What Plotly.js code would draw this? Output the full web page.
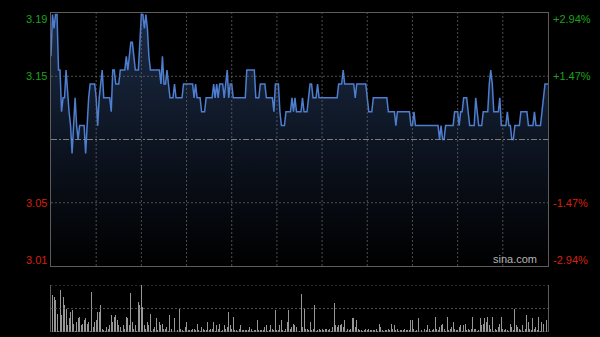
<!DOCTYPE html>
<html>
<head>
<meta charset="utf-8">
<script src="https://cdn.plot.ly/plotly-3.0.1.min.js"></script>
<style>
html,body{margin:0;padding:0;background:#000;}
#chart{width:600px;height:337px;}
</style>
</head>
<body>
<div id="chart"></div>
<script>
// ---- data (one value per trading minute, HK session 09:30-12:00, 13:00-16:00) ----
var prevClose = 3.10;
var priceLabels = ['3.19', '3.15', '3.05', '3.01'];
var pctLabels = ['+2.94%', '+1.47%', '-1.47%', '-2.94%'];
var pctSteps = [0.0294, 0.0147, -0.0147, -0.0294];
var sessionTicks = [30, 60, 90, 120, 150, 180, 210, 240, 270, 300];

var prices = [
3.16,3.19,3.18,3.19,3.19,3.15,3.15,3.12,3.13,3.13,
3.15,3.13,3.12,3.11,3.09,3.11,3.13,3.11,3.10,3.11,
3.11,3.11,3.11,3.09,3.11,3.13,3.14,3.14,3.14,3.14,
3.13,3.11,3.13,3.14,3.15,3.13,3.13,3.13,3.13,3.13,
3.12,3.15,3.15,3.14,3.14,3.14,3.15,3.15,3.15,3.15,
3.16,3.15,3.16,3.17,3.17,3.16,3.15,3.15,3.15,3.17,
3.19,3.19,3.18,3.19,3.18,3.16,3.15,3.15,3.15,3.15,
3.15,3.15,3.15,3.14,3.16,3.14,3.14,3.15,3.14,3.13,
3.13,3.13,3.14,3.13,3.13,3.13,3.13,3.13,3.14,3.14,
3.14,3.14,3.14,3.14,3.14,3.13,3.14,3.13,3.13,3.13,
3.12,3.12,3.12,3.13,3.13,3.13,3.13,3.13,3.14,3.13,
3.14,3.13,3.14,3.14,3.14,3.13,3.14,3.15,3.13,3.14,
3.14,3.13,3.13,3.13,3.13,3.13,3.13,3.13,3.13,3.13,
3.15,3.15,3.15,3.15,3.15,3.15,3.13,3.13,3.13,3.14,
3.14,3.14,3.14,3.13,3.13,3.13,3.13,3.13,3.12,3.14,
3.14,3.14,3.12,3.11,3.11,3.11,3.12,3.12,3.12,3.12,
3.13,3.12,3.13,3.12,3.12,3.12,3.12,3.13,3.12,3.12,
3.12,3.13,3.14,3.14,3.13,3.13,3.13,3.14,3.13,3.13,
3.13,3.13,3.13,3.13,3.13,3.13,3.13,3.13,3.13,3.13,
3.13,3.14,3.14,3.14,3.15,3.14,3.14,3.14,3.14,3.14,
3.14,3.14,3.13,3.14,3.14,3.14,3.14,3.14,3.14,3.14,
3.13,3.12,3.12,3.12,3.13,3.13,3.13,3.13,3.13,3.13,
3.13,3.13,3.13,3.13,3.12,3.12,3.12,3.12,3.12,3.11,
3.12,3.12,3.12,3.12,3.12,3.12,3.12,3.12,3.12,3.11,
3.11,3.12,3.11,3.11,3.11,3.11,3.11,3.11,3.11,3.11,
3.11,3.11,3.11,3.11,3.11,3.11,3.11,3.11,3.10,3.11,
3.10,3.10,3.11,3.11,3.11,3.11,3.11,3.11,3.12,3.12,
3.12,3.11,3.12,3.12,3.13,3.13,3.13,3.12,3.11,3.11,
3.11,3.11,3.13,3.12,3.11,3.11,3.11,3.12,3.12,3.12,
3.12,3.14,3.15,3.14,3.12,3.12,3.12,3.12,3.13,3.11,
3.11,3.11,3.11,3.12,3.11,3.11,3.10,3.10,3.11,3.11,
3.11,3.11,3.12,3.12,3.12,3.12,3.12,3.11,3.11,3.11,
3.11,3.12,3.11,3.11,3.11,3.11,3.12,3.13,3.14,3.14,
3.14
];

var volumes = [
89,79,75,68,39,3,89,36,75,57,
50,14,29,43,46,18,3,21,29,32,
14,18,25,29,18,21,3,86,11,21,
25,43,43,57,7,4,3,11,7,14,
36,21,32,36,25,14,11,3,14,7,
32,29,14,82,21,7,14,3,64,57,
100,54,14,7,21,14,39,3,7,11,
29,4,21,14,18,7,7,11,3,36,
7,18,29,36,4,50,7,4,3,11,
21,4,4,4,7,7,4,18,4,3,
11,7,4,4,21,4,7,7,21,3,14,
7,18,3,4,14,7,11,43,14,7,
32,4,4,3,7,14,4,4,4,4,
4,11,7,3,4,4,25,4,4,4,
4,11,14,3,4,14,7,4,46,4,
4,14,25,4,3,7,21,46,7,11,
18,14,11,7,3,80,11,50,7,7,
4,21,4,7,57,3,4,7,4,7,
4,7,7,4,7,3,11,61,14,11,
14,14,18,11,25,3,7,4,7,29,
29,11,25,7,4,4,3,4,7,4,
7,4,4,4,4,7,3,18,11,4,
3,4,4,7,4,18,7,14,4,7,
3,4,4,4,7,4,4,4,25,25,
7,3,4,29,4,4,4,7,4,14,
7,3,4,7,32,7,4,11,14,18,
7,3,32,4,7,11,21,7,4,4,
11,14,3,14,18,4,7,4,7,32,
7,7,3,4,29,14,18,29,21,32,
14,7,32,3,7,4,11,18,32,7,
4,7,4,3,18,11,4,50,14,11,
7,4,14,3,7,36,21,7,4,29,
7,11,4,32,3,21,18,18,25,7
];

// ---- build ----
var minutes = prices.map(function (_, i) { return i; });
var lastMinute = minutes[minutes.length - 1];
var levels = pctSteps.map(function (p) { return prevClose * (1 + p); });
var yHi = levels[0], yLo = levels[3];

var GREEN = '#1aa31a', RED = '#d4200c';
var FONT = 'Arial, "Liberation Sans", sans-serif';

var priceTrace = {
  type: 'scatter', mode: 'lines', x: minutes, y: prices,
  xaxis: 'x', yaxis: 'y',
  line: { color: 'rgb(78,126,208)', width: 1.5 },
  fill: 'tozeroy',
  fillgradient: {
    type: 'vertical',
    start: yLo, stop: yHi,
    colorscale: [[0, 'rgb(0,0,0)'], [1, 'rgb(27,43,70)']]
  },
  hoverinfo: 'skip'
};

var volTrace = {
  type: 'bar', x: minutes, y: volumes,
  xaxis: 'x2', yaxis: 'y2',
  width: 0.65,
  marker: { color: 'rgb(150,150,150)', line: { width: 0 } },
  hoverinfo: 'skip'
};

var shapes = [];
var gridCol = 'rgba(110,110,110,0.7)';
var gridDash = '2px,2px';
sessionTicks.forEach(function (t) {
  shapes.push({ type: 'line', xref: 'x', yref: 'y domain', x0: t, x1: t, y0: 0, y1: 1,
    line: { color: gridCol, width: 1, dash: gridDash }, layer: 'above' });
});
[levels[1], levels[2]].forEach(function (v) {
  shapes.push({ type: 'line', xref: 'x domain', yref: 'y', x0: 0, x1: 1, y0: v, y1: v,
    line: { color: gridCol, width: 1, dash: gridDash }, layer: 'above' });
});
shapes.push({ type: 'line', xref: 'x domain', yref: 'y', x0: 0, x1: 1, y0: prevClose, y1: prevClose,
  line: { color: 'rgba(150,150,150,0.8)', width: 1, dash: '6px,2px,2px,2px' }, layer: 'above' });
// volume panel top / middle / bottom rules
[100, 50].forEach(function (v) {
  shapes.push({ type: 'line', xref: 'x2 domain', yref: 'y2', x0: 0, x1: 1, y0: v, y1: v,
    line: { color: gridCol, width: 1, dash: gridDash }, layer: 'above' });
});
shapes.push({ type: 'line', xref: 'x2 domain', yref: 'y2', x0: 0, x1: 1, y0: 0, y1: 0,
  line: { color: 'rgba(110,110,110,0.8)', width: 1 }, layer: 'above' });

var annotations = [];
var anchorsY = ['top', 'middle', 'middle', 'bottom'];
var shiftsY = [2, 0, 0, -2];
levels.forEach(function (v, i) {
  var col = i < 2 ? GREEN : RED;
  annotations.push({ xref: 'paper', yref: 'y', x: 0, y: v, xanchor: 'right', yanchor: anchorsY[i],
    xshift: -2, yshift: shiftsY[i], text: priceLabels[i], showarrow: false,
    font: { family: FONT, size: 11, color: col } });
  annotations.push({ xref: 'paper', yref: 'y', x: 1, y: v, xanchor: 'left', yanchor: anchorsY[i],
    xshift: 3, yshift: shiftsY[i], text: pctLabels[i], showarrow: false,
    font: { family: FONT, size: 11, color: col } });
});
annotations.push({ xref: 'paper', yref: 'y', x: 1, y: yLo, xanchor: 'right', yanchor: 'bottom',
  xshift: -9, yshift: -1, text: 'sina.com', showarrow: false,
  font: { family: FONT, size: 11, color: '#b4b4b4' } });

var axisLine = '#5c5c5c';
var layout = {
  width: 600, height: 337,
  paper_bgcolor: '#000', plot_bgcolor: '#000',
  margin: { l: 51, r: 52, t: 13, b: 5, pad: 0 },
  showlegend: false,
  bargap: 0,
  xaxis: { domain: [0, 1], anchor: 'y', range: [0, lastMinute], showgrid: false, zeroline: false,
    showticklabels: false, ticks: '', showline: true, mirror: true, linecolor: axisLine, linewidth: 1, fixedrange: true },
  yaxis: { domain: [66 / 319, 1], anchor: 'x', range: [yLo, yHi], showgrid: false, zeroline: false,
    showticklabels: false, ticks: '', showline: true, mirror: true, linecolor: axisLine, linewidth: 1, fixedrange: true },
  xaxis2: { domain: [0, 1], anchor: 'y2', range: [0, lastMinute], showgrid: false, zeroline: false,
    showticklabels: false, ticks: '', showline: false, fixedrange: true },
  yaxis2: { domain: [0, 47 / 319], anchor: 'x2', range: [0, 100], showgrid: false, zeroline: false,
    showticklabels: false, ticks: '', showline: true, mirror: true, linecolor: axisLine, linewidth: 1, fixedrange: true },
  shapes: shapes,
  annotations: annotations
};

Plotly.newPlot('chart', [priceTrace, volTrace], layout, { displayModeBar: false, staticPlot: true });
</script>
</body>
</html>
